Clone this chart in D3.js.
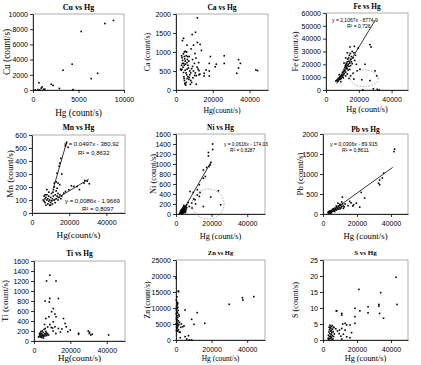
<!DOCTYPE html>
<html lang="en">
<head>
<meta charset="UTF-8">
<title>Hg scatter plots</title>
<script src="https://d3js.org/d3.v7.min.js"></script>
<style>
    body { margin: 0; background: #fff; }
    .tick text { font-family: "Liberation Sans", Arial, sans-serif; font-size: 7px; }
    .ttl { font-family: "Liberation Serif", "Times New Roman", serif; font-weight: bold; }
    .lbl { font-family: "Liberation Serif", "Times New Roman", serif; }
    .eq { font-family: "Liberation Sans", Arial, sans-serif; }
</style>
</head>
<body>
<div id="graph"></div>
<script>
// ---- data: [Hg count/s, element count/s] ----
var cuData = [[8840,9150],[7900,8750],[5300,7700],[4300,3400],[3300,2600],[7100,2200],[6400,1500],[4400,50],[2900,200],
    [2000,750],[2200,600],[650,950],[1000,400],[900,250],[1150,100],[250,0],[550,50],[1300,100],[750,0]];

var caData = [[11600,1900],[10600,1520],[8800,1460],[4100,1360],[3500,1300],[6000,1180],[11600,1250],[13100,1200],[13800,1040],
    [10300,960],[18700,880],[26200,900],[34000,800],[35000,700],[34000,580],[33000,440],[43400,530],[44300,510],[26200,700],
    [21300,610],[21900,680],[18100,700],[16300,530],[18100,500],[18100,370],[15300,370],[12500,400],[12500,510],[15300,440],
    [3000,900],[3300,850],[3600,780],[4000,950],[4200,700],[4500,880],[4800,820],[5000,760],[5200,680],[5500,900],[5800,1000],
    [6000,720],[6200,800],[6500,650],[7000,760],[7200,880],[3800,600],[3200,540],[2800,520],[4100,460],[4400,300],[4600,250],
    [4800,180],[5000,150],[5300,130],[5600,200],[6000,300],[6500,350],[7000,280],[7500,400],[8000,450],[8500,560],[9000,620],
    [9500,500],[10000,700],[10500,450],[11000,380],[11500,600],[12000,550],[9000,800],[8000,250],[8500,200],[7800,150],
    [5500,450],[6000,550],[4500,650],[3500,700],[5100,1020],[9500,1180],[4500,1000],[3000,650],[6800,580],[7500,500],
    [10800,840],[5800,400],[4300,350],[2500,550],[7200,330],[9200,320],[10200,380],[5000,520],[6400,880],[8200,1080],
    [12300,720],[11000,150],[13000,420]];

var feData = [[26800,35300],[27500,33500],[17300,34000],[19700,32700],[14600,33500],[23800,20000],[20700,16200],[29900,14900],
    [30900,11000],[26800,7300],[21800,8000],[22400,0],[31300,500],[32500,0],[28900,900],
    [6000,7000],[6500,7500],[7000,8200],[7200,6800],[7500,9000],[8000,8000],[8200,9500],[8500,10500],[8800,8500],[9000,11000],
    [9200,9000],[9500,12000],[9800,10200],[10000,13500],[10200,11000],[10500,14500],[10800,12000],[11000,16000],[11200,13000],
    [11500,17500],[11500,15000],[11800,19000],[12000,14000],[12000,18000],[12200,20000],[12500,16500],[12500,21000],[12800,19000],
    [13000,22000],[13000,17000],[13200,24000],[13500,20000],[13500,15500],[13800,25000],[14000,18500],[14000,22500],[14200,27000],
    [14500,21000],[14500,16000],[14800,28500],[15000,24000],[15000,19000],[15500,26000],[15500,22000],[16000,30000],[16000,20500],
    [16500,25000],[17000,29000],[17500,23000],[18000,27000],[9000,6500],[10500,9500],[12000,11000],[13000,12500],[11000,21000],
    [12000,25000],[13000,29000],[8000,12000],[16500,13000],[18500,20000],[19000,15000],[15000,11000],[14000,9000],[17000,8500]];

var mnData = [[18550,540],[19400,505],[18000,520],[14900,383],[14600,360],[13500,306],[14000,230],[14900,218],[11300,160],
    [15500,420],[16000,300],
    [29700,245],[28400,250],[27900,230],[24300,204],[22500,204],[21200,209],[19800,179],[18000,166],[17100,153],[30800,225],[25500,180],
    [6000,100],[6500,90],[7000,110],[7000,80],[7500,120],[7500,60],[8000,100],[8000,140],[8500,70],[8500,110],[9000,90],[9000,130],
    [9500,60],[9500,100],[10000,120],[10000,80],[10500,150],[10500,95],[11000,110],[11000,70],[11500,130],[11500,180],[12000,100],
    [12000,200],[12500,140],[12500,80],[13000,170],[13000,110],[13500,130],[13500,190],[14000,150],[14000,100],[14500,120],
    [15000,140],[15500,110],[16000,130],[9000,160],[8000,180],[10000,60],[12000,230],[13000,240],[7000,140],[6500,130]];

var niData = [[20600,1400],[20600,1290],[18200,1230],[18200,1160],[19500,1030],[19100,980],[18500,950],[17200,930],[15400,880],
    [16500,750],[15400,715],[13100,585],[12000,485],[7900,450],[9700,430],[13500,430],[23800,465],[13100,350],[19500,340],
    [15400,150],[25100,185],[10700,285],[6900,230],[8800,220],[6000,185],[10000,300],[11000,200],[7500,150],[9000,120],[12000,380],
    [2000,10],[2300,30],[2500,20],[2600,60],[2800,40],[3000,80],[3000,20],[3200,50],[3400,100],[3500,30],[3600,70],[3800,120],
    [3800,50],[4000,90],[4000,20],[4200,140],[4300,60],[4500,110],[4500,30],[4700,80],[4800,150],[5000,50],[5000,120],[5200,90],
    [5400,160],[5500,60],[5800,100],[6000,130],[3300,10],[4100,40],[4600,60],[5300,30],[2900,60],[3700,90],[4400,170],[5600,140]];

var pbData = [[42100,1620],[41800,1560],[35700,1020],[34900,900],[33300,850],[32700,770],[33300,730],[22500,540],[24500,400],
    [11400,420],[14700,210],[15700,315],[19600,270],[18000,230],[21600,170],[8800,270],[9800,230],[12000,200],[13000,250],
    [10500,150],[16500,280],[17500,200],[11000,300],
    [3000,30],[3500,50],[4000,40],[4000,80],[4500,60],[5000,90],[5000,40],[5500,110],[5500,70],[6000,80],[6000,130],[6500,100],
    [7000,150],[7000,90],[7500,120],[8000,170],[8000,100],[8500,140],[9000,200],[9000,120],[9500,170],[10000,240],[10000,130],
    [10500,210],[11000,180],[3200,60],[3800,30],[4500,20],[6800,60],[7800,200],[12000,140],[11500,250],[12500,180]];

var tiData = [[8700,1315],[6900,1200],[12100,1200],[6100,800],[8700,850],[8400,780],[13400,850],[10600,650],[9700,585],
    [11500,540],[12100,485],[8200,485],[6500,450],[10600,385],[8700,330],[11500,285],[16200,450],[17100,350],[17700,285],
    [13400,250],[15300,240],[18600,185],[19900,220],[24500,155],[24500,135],[29800,200],[30400,150],[31200,120],[32000,135],
    [30500,175],[41000,120],[9500,270],[10200,260],[12000,150],[7500,280],[14500,180],[10500,200],
    [2500,80],[3000,100],[3000,140],[3500,120],[3500,80],[4000,150],[4000,100],[4500,200],[4500,130],[5000,90],[5000,170],
    [5500,120],[5500,230],[6000,150],[6000,100],[6500,190],[6500,130],[7000,110],[7000,160],[7500,140],[8000,120],[4200,70],
    [5200,60],[3800,190],[6200,250],[5800,330],[4800,110],[3300,160]];

var znData = [[43700,13550],[37300,13200],[37600,12500],[29900,11150],[11900,8540],[8800,6460],[10100,4900],[16200,5210],
    [5100,9380],[3800,4170],[2700,3960],[2400,2400],[2400,730],[5100,1040],[7000,1350],[8800,0],[7500,0],[4500,4400],[3000,5000],
    [6000,300],
    [0,19300],[1500,15100],[1200,15300],[200,12500],[500,11800],[800,11000],[300,10500],[1000,10200],[600,9800],[200,9500],
    [1200,9200],[400,8800],[800,8500],[100,8200],[1500,8000],[600,7600],[300,7200],[1000,7000],[200,6600],[700,6300],[1300,6000],
    [400,5700],[900,5300],[100,5000],[600,4700],[1100,4400],[300,4100],[800,3800],[500,3500],[1400,3200],[200,3000],[900,2800],
    [1800,2500],[1600,4800],[2000,5500],[1800,7500],[1000,11500],[500,13500]];

var sData = [[43000,19.6],[43500,11.1],[33900,14.8],[32900,11.1],[32900,10.6],[33300,8.3],[35600,6.8],[26500,10.4],[26500,8.5],
    [21100,15.8],[21700,9.1],[18800,9.9],[18800,7.3],[18800,5.2],[8100,9.1],[11000,8.3],[11000,7.8],[11600,5.0],[13000,5.2],
    [13900,4.7],[15900,4.7],[16800,2.3],[11000,3.6],[9700,3.1],[13000,3.1],[12000,1.8],[13900,1.0],[15900,0.7],[11000,0.3],
    [7800,9.1],[9500,2.0],[10500,1.2],[7500,3.5],[8500,2.8],
    [3000,0.5],[3200,1.5],[3400,0.2],[3500,2.5],[3700,1.0],[3800,3.2],[4000,0.4],[4000,2.0],[4200,3.8],[4300,1.2],[4500,2.8],
    [4500,0.6],[4700,4.2],[4800,1.8],[5000,3.0],[5000,0.9],[5200,2.3],[5400,4.5],[5500,1.4],[5600,3.4],[5800,0.3],[6000,2.6],
    [6200,1.1],[6500,3.9],[6700,1.9],[3600,4.0],[4100,4.6],[5300,0.2],[4600,3.6],[6100,4.0]];

// trend lines: [slope, intercept, xFrom, xTo]
var feTrend = [2.1067, -8774.9, 6500, 30000];
var mnTrendA = [0.0497, -380.92, 11500, 18800];
var mnTrendB = [0.0086, -1.9669, 10500, 30500];
var niTrend = [0.0616, -174.03, 3800, 19800];
var pbTrend = [0.0306, -89.915, 3000, 41000];

// dashed rings: [cx, cy, rx, ry] in data units
var feRing = [23300, 9100, 8500, 6500];
var niRing = [18000, 200, 9000, 300];

// tick values
var hgTicks = [0, 20000, 40000];
var cuHgTicks = [0, 5000, 10000];
var cuTicks = [0, 2000, 4000, 6000, 8000, 10000];
var caTicks = [0, 500, 1000, 1500, 2000];
var feTicks = [0, 10000, 20000, 30000, 40000, 50000, 60000];
var mnTicks = [0, 100, 200, 300, 400, 500, 600];
var niTicks = [0, 200, 400, 600, 800, 1000, 1200, 1400, 1600];
var pbTicks = [0, 500, 1000, 1500, 2000];
var tiTicks = [0, 200, 400, 600, 800, 1000, 1200, 1400, 1600];
var znTicks = [0, 5000, 10000, 15000, 20000, 25000];
var sTicks = [0, 5, 10, 15, 20, 25];

var svg = d3.select("#graph").append("svg")
    .attr("width", 421)
    .attr("height", 365);

function panel(p) {
    var x = d3.scaleLinear().domain([0, p.xmax]).range([p.l, p.r]);
    var y = d3.scaleLinear().domain([0, p.ymax]).range([p.b, p.t]);
    var g = svg.append("g");

    // plot area border
    g.append("rect")
        .attr("x", p.l).attr("y", p.t)
        .attr("width", p.r - p.l).attr("height", p.b - p.t)
        .attr("fill", "none").attr("stroke", "#999").attr("stroke-width", 0.8);

    var xa = g.append("g")
        .attr("transform", "translate(0," + p.b + ")")
        .call(d3.axisBottom(x).tickValues(p.xt).tickSize(3).tickSizeOuter(0).tickPadding(4).tickFormat(d3.format("d")));
    var ya = g.append("g")
        .attr("transform", "translate(" + p.l + ",0)")
        .call(d3.axisLeft(y).tickValues(p.yt).tickSize(3).tickSizeOuter(0).tickPadding(2).tickFormat(d3.format("d")));
    [xa, ya].forEach(function (a) {
        a.selectAll("path, line").attr("stroke", "#000").attr("stroke-width", 0.8);
    });

    // points
    g.selectAll(".pt").data(p.data).enter().append("rect")
        .attr("x", function (d) { return x(d[0]) - 0.8; })
        .attr("y", function (d) { return y(d[1]) - 0.8; })
        .attr("width", 1.6).attr("height", 1.6)
        .attr("fill", "#000");

    // trend lines
    (p.trends || []).forEach(function (t) {
        g.append("line")
            .attr("x1", x(t[2])).attr("y1", y(t[0] * t[2] + t[1]))
            .attr("x2", x(t[3])).attr("y2", y(t[0] * t[3] + t[1]))
            .attr("stroke", "#000").attr("stroke-width", 0.8);
    });

    if (p.ring) {
        var r = p.ring;
        g.append("ellipse")
            .attr("cx", x(r[0])).attr("cy", y(r[1]))
            .attr("rx", x(r[2]) - x(0)).attr("ry", y(0) - y(r[3]))
            .attr("fill", "none").attr("stroke", "#888")
            .attr("stroke-width", 0.7).attr("stroke-dasharray", "1.5,1.5");
    }

    (p.eqs || []).forEach(function (e) {
        g.append("text").attr("class", "eq")
            .attr("x", e[1]).attr("y", e[2])
            .style("font-size", e[3] + "px")
            .text(e[0]);
    });

    g.append("text").attr("class", "ttl")
        .attr("x", (p.l + p.r) / 2).attr("y", p.ty)
        .attr("text-anchor", "middle").attr("dy", "0.35em")
        .style("font-size", p.ts + "px")
        .text(p.title);

    g.append("text").attr("class", "lbl")
        .attr("x", (p.l + p.r) / 2).attr("y", p.xly)
        .attr("text-anchor", "middle").attr("dy", "0.35em")
        .style("font-size", p.ls + "px")
        .text(p.xlabel);

    g.append("text").attr("class", "lbl")
        .attr("transform", "translate(" + p.ylx + "," + (p.t + p.b) / 2 + ") rotate(-90)")
        .attr("text-anchor", "middle").attr("dy", "0.35em")
        .style("font-size", p.ls + "px")
        .text(p.ylabel);
}

panel({ title: "Cu vs Hg", xlabel: "Hg (count/s)", ylabel: "Cu (count/s)", data: cuData,
    l: 33, r: 124, t: 14, b: 90, ty: 7, ts: 8, ls: 9.3, ylx: 7, xly: 113,
    xmax: 10000, xt: cuHgTicks, ymax: 10000, yt: cuTicks });

panel({ title: "Ca vs Hg", xlabel: "Hg(count/s)", ylabel: "Ca (count/s)", data: caData,
    l: 176, r: 268, t: 14, b: 90, ty: 7, ts: 7.5, ls: 7.8, ylx: 147, xly: 110,
    xmax: 50000, xt: hgTicks, ymax: 2000, yt: caTicks });

panel({ title: "Fe vs Hg", xlabel: "Hg (count/s)", ylabel: "Fe (count/s)", data: feData,
    l: 326, r: 408, t: 13, b: 90, ty: 6, ts: 7.3, ls: 8.3, ylx: 295, xly: 109.5,
    xmax: 50000, xt: hgTicks, ymax: 60000, yt: feTicks,
    trends: [feTrend], ring: feRing,
    eqs: [["y = 2,1067x - 8774,9", 332, 22, 5], ["R² = 0,726", 347, 27.5, 5]] });

panel({ title: "Mn vs Hg", xlabel: "Hg(count/s)", ylabel: "Mn (count/s)", data: mnData,
    l: 32, r: 125, t: 135, b: 213, ty: 127, ts: 7.6, ls: 9.2, ylx: 10, xly: 235,
    xmax: 50000, xt: hgTicks, ymax: 600, yt: mnTicks,
    trends: [mnTrendA, mnTrendB],
    eqs: [["y = 0,0497x - 380,92", 64, 146, 6], ["R² = 0,8632", 78, 154.5, 6],
          ["y = 0,0086x - 1,9669", 65, 202.5, 6], ["R² = 0,8097", 82, 211, 6]] });

panel({ title: "Ni vs Hg", xlabel: "Hg (count/s)", ylabel: "Ni (count/s)", data: niData,
    l: 176, r: 265, t: 134, b: 214, ty: 127, ts: 7.3, ls: 8.3, ylx: 153, xly: 236,
    xmax: 50000, xt: hgTicks, ymax: 1600, yt: niTicks,
    trends: [niTrend], ring: niRing,
    eqs: [["y = 0,0616x - 174,03", 224, 146, 4.8], ["R² = 0,8287", 230, 152, 4.8]] });

panel({ title: "Pb vs Hg", xlabel: "Hg (count/s)", ylabel: "Pb (count/s)", data: pbData,
    l: 323, r: 408, t: 134, b: 214, ty: 129, ts: 7.4, ls: 8.8, ylx: 300, xly: 236,
    xmax: 50000, xt: hgTicks, ymax: 2000, yt: pbTicks,
    trends: [pbTrend],
    eqs: [["y = 0,0306x - 89,915", 330, 146, 5.2], ["R² = 0,8611", 342, 152, 5.2]] });

panel({ title: "Ti vs Hg", xlabel: "Hg(count/s)", ylabel: "Ti (count/s)", data: tiData,
    l: 34, r: 125, t: 261, b: 341, ty: 253, ts: 7.4, ls: 9, ylx: 5, xly: 358,
    xmax: 50000, xt: hgTicks, ymax: 1600, yt: tiTicks });

panel({ title: "Zn vs Hg", xlabel: "Hg (count/s)", ylabel: "Zn (count/s)", data: znData,
    l: 176, r: 265, t: 260, b: 340, ty: 253, ts: 6.5, ls: 7.5, ylx: 147, xly: 358,
    xmax: 50000, xt: hgTicks, ymax: 25000, yt: znTicks });

panel({ title: "S vs Hg", xlabel: "Hg (count/s)", ylabel: "S (count/s)", data: sData,
    l: 323, r: 408, t: 260, b: 340, ty: 253, ts: 7, ls: 8.3, ylx: 295, xly: 358,
    xmax: 50000, xt: hgTicks, ymax: 25, yt: sTicks });
</script>
</body>
</html>
